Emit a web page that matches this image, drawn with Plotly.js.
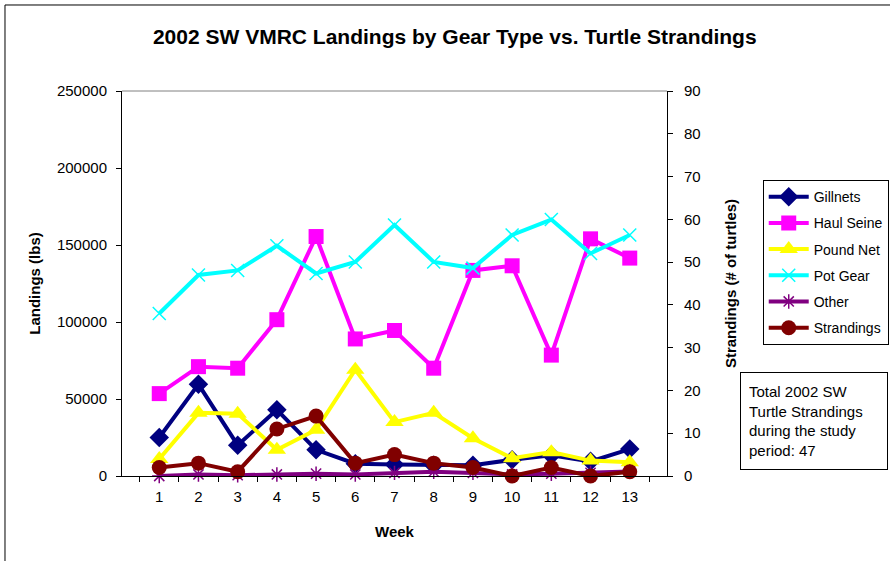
<!DOCTYPE html>
<html>
<head>
<meta charset="utf-8">
<script src="https://cdn.plot.ly/plotly-3.0.1.min.js"></script>
<style>html,body{margin:0;padding:0;background:#fff;}#chart{width:890px;height:561px;}</style>
</head>
<body>
<div id="chart"></div>
<script>
const weeks = ['1','2','3','4','5','6','7','8','9','10','11','12','13'];
const gillnets   = [25000, 59500, 20000, 43000, 17000, 8000, 7500, 7000, 7000, 10500, 13500, 9500, 17500];
const haulSeine  = [53500, 71000, 70000, 101500, 155500, 89000, 94500, 70000, 133500, 136500, 78500, 154000, 141500];
const poundNet   = [11000, 41000, 40500, 17000, 30000, 69000, 35000, 41000, 24500, 11500, 15500, 10000, 9000];
const potGear    = [105500, 130500, 133500, 149500, 131500, 139000, 163000, 139000, 135000, 156500, 166500, 144500, 156500];
const other      = [0, 1000, 500, 1000, 1500, 1000, 2000, 2800, 2000, 1000, 1500, 2000, 3000];
const strandings = [2, 3, 1, 11, 14, 3, 5, 3, 2, 0, 2, 0, 1];
const names = ['Gillnets','Haul Seine','Pound Net','Pot Gear','Other','Strandings'];
const noteText = 'Total 2002 SW<br>Turtle Strandings<br>during the study<br>period: 47';

const FONT = 'Arial, "Liberation Sans", sans-serif';

function tr(y, name, color, symbol, size, axis, mline) {
  return {
    x: weeks, y: y, name: name, type: 'scatter', mode: 'lines+markers',
    yaxis: axis || 'y', legendgroup: name, cliponaxis: false,
    line: {color: color, width: 4},
    marker: {color: color, symbol: symbol, size: size, line: mline || {width: 0}}
  };
}

const data = [
  tr(gillnets, names[0], '#000080', 'diamond', 15),
  tr(haulSeine, names[1], '#FF00FF', 'square', 15),
  tr(poundNet, names[2], '#FFFF00', 'triangle-up', 16),
  tr(potGear, names[3], '#00FFFF', 'x-thin-open', 13, 'y', {color: '#00FFFF', width: 1.5}),
  tr(other, names[4], '#800080', 'asterisk-open', 12, 'y', {color: '#800080', width: 1.5}),
  tr(strandings, names[5], '#800000', 'circle', 15, 'y2')
];

const layout = {
  width: 890, height: 561,
  margin: {l: 122, r: 223, t: 91, b: 85, pad: 0, autoexpand: false},
  paper_bgcolor: '#fff', plot_bgcolor: '#fff',
  font: {family: FONT, size: 15, color: '#000'},
  showlegend: true,
  title: {text: '<b>2002 SW VMRC Landings by Gear Type vs. Turtle Strandings</b>',
          font: {family: FONT, size: 21, color: '#000'},
          x: 0.511, xanchor: 'center', y: 0.934, yanchor: 'middle', xref: 'container', yref: 'container'},
  xaxis: {
    type: 'category', tickson: 'boundaries', ticks: 'outside', ticklen: 5, tickcolor: '#000',
    showline: true, linecolor: '#000', linewidth: 1, showgrid: false, zeroline: false,
    tickfont: {size: 15}, ticklabelstandoff: 7,
    title: {text: '<b>Week</b>', font: {size: 15}, standoff: 22}
  },
  yaxis: {
    range: [0, 250000], tickvals: [0, 50000, 100000, 150000, 200000, 250000],
    ticktext: ['0','50000','100000','150000','200000','250000'],
    ticks: 'outside', ticklen: 5, tickcolor: '#000', ticklabelstandoff: 6,
    showline: true, linecolor: '#000', linewidth: 1, showgrid: false, zeroline: false,
    tickfont: {size: 15},
    title: {text: '<b>Landings (lbs)</b>', font: {size: 15}, standoff: 12}
  },
  yaxis2: {
    overlaying: 'y', side: 'right', range: [0, 90], dtick: 10, tick0: 0,
    ticks: 'outside', ticklen: 5, tickcolor: '#000', ticklabelstandoff: 8,
    showline: true, linecolor: '#000', linewidth: 1, showgrid: false, zeroline: false,
    tickfont: {size: 15},
    title: {text: '<b>Strandings (# of turtles)</b>', font: {size: 15}, standoff: 25}
  },
  legend: {
    xref: 'container', yref: 'container',
    x: 0.857, y: 0.679, xanchor: 'left', yanchor: 'top',
    bordercolor: '#000', borderwidth: 1, bgcolor: '#fff',
    font: {size: 14}, tracegroupgap: 5, traceorder: 'grouped', itemwidth: 40
  },
  annotations: [{
    xref: 'paper', yref: 'paper', x: 1.269, y: 0.143, xanchor: 'center', yanchor: 'middle',
    text: noteText, showarrow: false, align: 'left', font: {size: 15},
    bordercolor: '#000', borderwidth: 1, borderpad: 8, width: 130, height: 80, bgcolor: '#fff'
  }],
  shapes: [
    {type: 'line', xref: 'paper', yref: 'paper', x0: 0, x1: 1, y0: 1, y1: 1, line: {color: '#808080', width: 1}},
    {type: 'line', xref: 'paper', yref: 'paper', x0: -0.2147, x1: -0.2147, y0: 1.2234, y1: -0.25, line: {color: '#000', width: 1}},
    {type: 'line', xref: 'paper', yref: 'paper', x0: -0.2147, x1: 1.45, y0: 1.2234, y1: 1.2234, line: {color: '#000', width: 1}}
  ]
};

Plotly.newPlot('chart', data, layout, {displayModeBar: false, staticPlot: true});
</script>
</body>
</html>
